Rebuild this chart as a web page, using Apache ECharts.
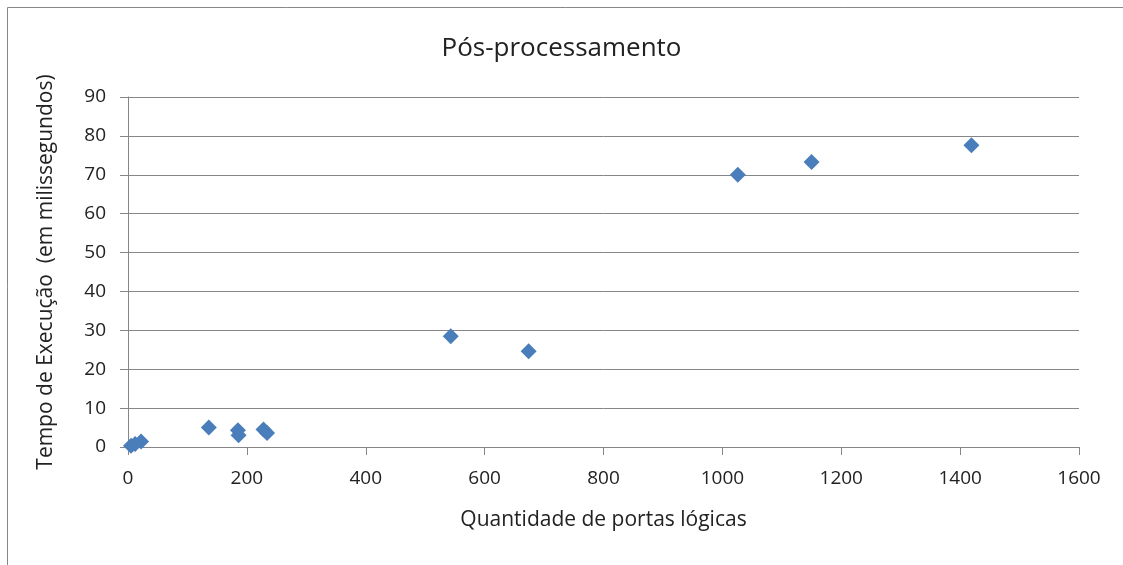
<!DOCTYPE html>
<html><head><meta charset="utf-8">
<script src="https://cdn.jsdelivr.net/npm/echarts@6/dist/echarts.min.js"></script>
<style>html,body{margin:0;padding:0;background:#fff}#c{width:1123px;height:565px}</style>
</head><body><div id="c"></div>
<script>
const titleText = "Pós-processamento";
const xName = "Quantidade de portas lógicas";
const yName = "Tempo de Execução  (em milissegundos)";
const xValues = [5, 12, 22, 136, 185, 186, 228, 234, 543, 674, 1026, 1150, 1419];
const yValues = [0.3, 0.8, 1.4, 5.0, 4.3, 3.0, 4.5, 3.6, 28.5, 24.6, 70.0, 73.3, 77.6];
const data = xValues.map((x, i) => [x, yValues[i]]);
const font = "'Open Sans', 'Noto Sans', sans-serif";
const chart = echarts.init(document.getElementById('c'));
chart.setOption({
  animation: false,
  backgroundColor: '#fff',
  graphic: [{type: 'rect', shape: {x: 7.5, y: 7.5, width: 1200, height: 600}, style: {fill: 'none', stroke: '#878787', lineWidth: 1}, silent: true}],
  title: {text: titleText, left: 'center', top: 31, textStyle: {fontFamily: font, fontSize: 26, fontWeight: 'normal', color: '#222'}},
  grid: {left: 128, right: 44, top: 97, bottom: 118},
  xAxis: {type: 'value', min: 0, max: 1600, interval: 200,
    name: xName, nameLocation: 'middle', nameGap: 63,
    nameTextStyle: {fontFamily: font, fontSize: 21, color: '#222'},
    axisLine: {show: true, lineStyle: {color: '#868686'}},
    axisTick: {show: true, length: 8, inside: false, lineStyle: {color: '#868686'}},
    axisLabel: {fontFamily: font, fontSize: 19, color: '#222', margin: 22, formatter: v => String(v)},
    splitLine: {show: false}},
  yAxis: {type: 'value', min: 0, max: 90, interval: 10,
    name: yName, nameLocation: 'middle', nameGap: 71,
    nameTextStyle: {fontFamily: font, fontSize: 21, color: '#222'},
    axisLine: {show: true, lineStyle: {color: '#868686'}},
    axisTick: {show: true, length: 8, lineStyle: {color: '#868686'}},
    axisLabel: {fontFamily: font, fontSize: 19, color: '#222', margin: 22},
    splitLine: {show: true, lineStyle: {color: '#868686', width: 1}}},
  series: [{type: 'scatter', data: data, symbol: 'diamond', symbolSize: 16,
    itemStyle: {color: '#4a7ebb', opacity: 1}}]
});
</script></body></html>
